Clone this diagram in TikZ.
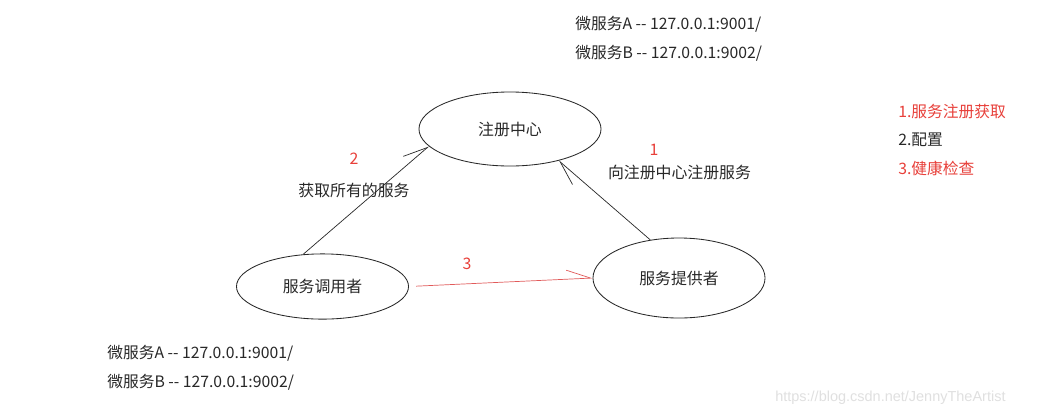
\documentclass[tikz,border=0pt]{standalone}
\usepackage{fontspec}
\setmainfont{Noto Sans CJK SC}
\newfontfamily\wmfont{Liberation Sans}
\usepackage{tikz}
\usetikzlibrary{arrows.meta}
\usetikzlibrary{shapes.geometric}
\definecolor{numred}{RGB}{232,64,58}
\definecolor{linkred}{RGB}{225,90,90}
\definecolor{inkgray}{RGB}{40,40,40}
\newcommand{\dd}{-{}-}
\tikzset{
  svc/.style={ellipse,draw=inkgray,line width=0.6pt,inner sep=0pt,
    text=inkgray,font=\fontsize{11.3}{13}\selectfont},
  call/.style={draw=inkgray,line width=0.5pt,
    -{Straight Barb[harpoon,length=0.6cm,width=0.45cm]}},
  lbl/.style={inner sep=0pt,text=inkgray,font=\fontsize{11.3}{13}\selectfont},
  num/.style={lbl,text=numred},
  addr/.style={inner sep=0pt,anchor=west,text=inkgray,font=\fontsize{11.2}{13}\selectfont}
}

\begin{document}
\begin{tikzpicture}[x=0.025cm,y=-0.025cm]
    \useasboundingbox[fill=white] (0,0) rectangle (1037,416);
    \node[svc,minimum width=4.55cm,minimum height=1.85cm] (registry) at (510,129) {注册中心};
    \node[svc,minimum width=4.3cm,minimum height=1.63cm] (caller) at (322.5,286.5) {服务调用者};
    \node[svc,minimum width=4.3cm,minimum height=2cm] (provider) at (679,278) {服务提供者};
    \draw[call] (caller.121) -- (registry.192);
    \draw[call] (provider.127) -- (registry.327);
    \draw[call,draw=linkred,shorten <=0.18cm] (caller.east) -- (provider.west);
    \node[num] (n2) at (354,159) {2};
    \node[lbl] (fetch) at (354,190) {获取所有的服务};
    \node[num] (n1) at (654,150) {1};
    \node[lbl] (enroll) at (679.5,172) {向注册中心注册服务};
    \node[num] (n3) at (467,264) {3};
    \node[addr] (topa) at (575,24) {微服务A \dd{} 127.0.0.1:9001/};
    \node[addr] (topb) at (575,53) {微服务B \dd{} 127.0.0.1:9002/};
    \node[addr] (bota) at (107,353) {微服务A \dd{} 127.0.0.1:9001/};
    \node[addr] (botb) at (107,382) {微服务B \dd{} 127.0.0.1:9002/};
    \node[addr,text=numred] (task1) at (898,112) {1.服务注册获取};
    \node[addr] (task2) at (898,140) {2.配置};
    \node[addr,text=numred] (task3) at (898,168) {3.健康检查};
    \node[anchor=west,inner sep=0pt,text=black!12,font=\wmfont\fontsize{10.3}{12}\selectfont] (mark) at (775,398) {https://blog.csdn.net/JennyTheArtist};
  \end{tikzpicture}
\end{document}
